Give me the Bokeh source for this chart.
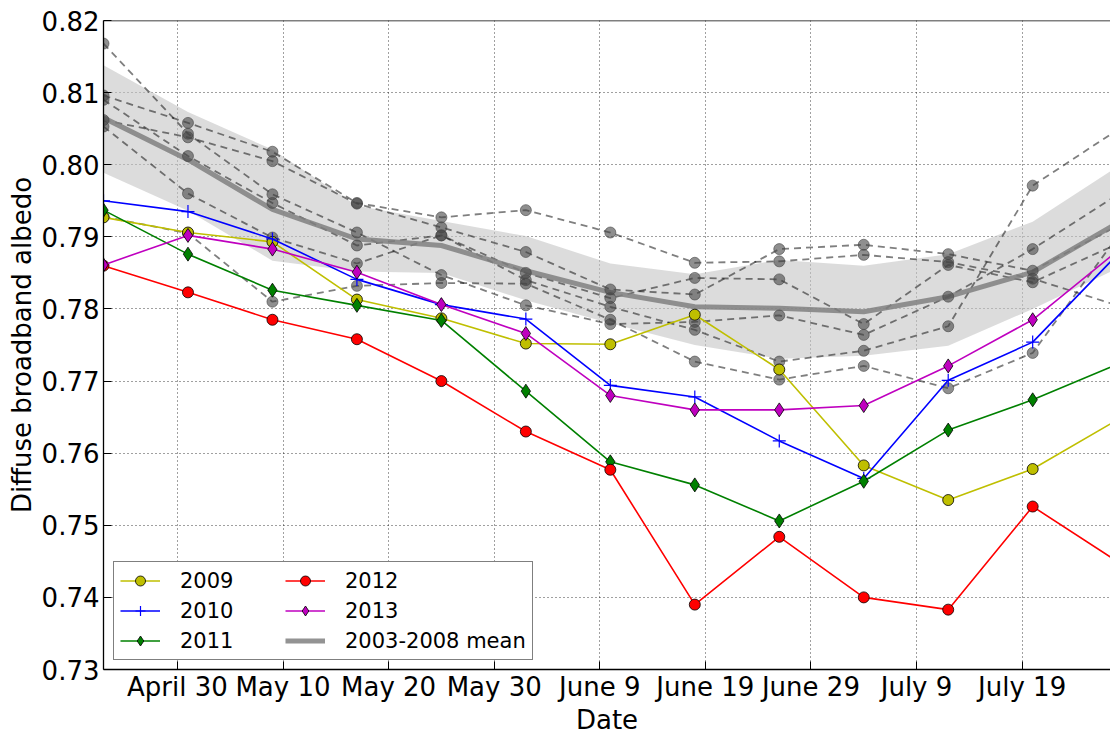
from bokeh.plotting import figure
from bokeh.models import Range1d, FixedTicker, PrintfTickFormatter, Legend, LegendItem, Span
from bokeh.embed import file_html
from bokeh.resources import INLINE

# day of year of each 8-day composite (Apr 23 ... Jul 28)
doy = [113, 121, 129, 137, 145, 153, 161, 169, 177, 185, 193, 201, 209]

tick_doy = [120, 130, 140, 150, 160, 170, 180, 190, 200]
tick_labels = ["April 30", "May 10", "May 20", "May 30", "June 9",
               "June 19", "June 29", "July 9", "July 19"]
y_ticks = [0.73, 0.74, 0.75, 0.76, 0.77, 0.78, 0.79, 0.80, 0.81, 0.82]

alb_2009 = [0.7927, 0.7906, 0.7893, 0.7813, 0.7787, 0.7752, 0.7751, 0.7792, 0.7716, 0.7583, 0.7535, 0.7578, 0.7646]
alb_2010 = [0.7950, 0.7935, 0.7897, 0.7841, 0.7806, 0.7786, 0.7694, 0.7678, 0.7617, 0.7565, 0.7701, 0.7754, 0.7875]
alb_2011 = [0.7937, 0.7876, 0.7826, 0.7805, 0.7784, 0.7686, 0.7588, 0.7556, 0.7506, 0.7561, 0.7632, 0.7674, 0.7723]
alb_2012 = [0.7860, 0.7823, 0.7785, 0.7758, 0.7700, 0.7630, 0.7577, 0.7390, 0.7484, 0.7400, 0.7383, 0.7526, 0.7450]
alb_2013 = [0.7861, 0.7902, 0.7883, 0.7851, 0.7806, 0.7766, 0.7680, 0.7660, 0.7660, 0.7666, 0.7721, 0.7785, 0.7880]

# individual reference years (2003-2008), grey dashed
ref_a = [0.8168, 0.8043, 0.7959, 0.7906, 0.7847, 0.7805, 0.7779, 0.7782, 0.7791, 0.7764, 0.7817, 0.7883, 0.7958]
ref_b = [0.8096, 0.8058, 0.8018, 0.7947, 0.7927, 0.7937, 0.7906, 0.7864, 0.7866, 0.7875, 0.7865, 0.7842, 0.7805]
ref_c = [0.8090, 0.8012, 0.7947, 0.7888, 0.7902, 0.7850, 0.7815, 0.7843, 0.7841, 0.7779, 0.7861, 0.7837, 0.7890]
ref_d = [0.8062, 0.8038, 0.8005, 0.7946, 0.7913, 0.7879, 0.7827, 0.7820, 0.7883, 0.7889, 0.7876, 0.7853, 0.7915]
ref_e = [0.8053, 0.7960, 0.7899, 0.7863, 0.7902, 0.7840, 0.7803, 0.7771, 0.7727, 0.7742, 0.7776, 0.7971, 0.8048]
ref_f = [0.7928, 0.7905, 0.7810, 0.7832, 0.7836, 0.7835, 0.7785, 0.7727, 0.7702, 0.7721, 0.7690, 0.7739, 0.7900]

mean_0308 = [0.8065, 0.8007, 0.7938, 0.7897, 0.7888, 0.7853, 0.7823, 0.7803, 0.7801, 0.7796, 0.7817, 0.7851, 0.7919]
band_upper = [0.8138, 0.8073, 0.8021, 0.7943, 0.7922, 0.7901, 0.7863, 0.7848, 0.7868, 0.7860, 0.7876, 0.7921, 0.7997]
band_lower = [0.7989, 0.7936, 0.7867, 0.7852, 0.7850, 0.7812, 0.7780, 0.7750, 0.7731, 0.7735, 0.7749, 0.7800, 0.7856]

FONT = "DejaVu Sans"

p = figure(width=1110, height=737, output_backend="svg", toolbar_location=None,
           x_range=Range1d(113, 208.37), y_range=Range1d(0.73, 0.82),
           min_border_left=103, min_border_right=0, min_border_top=20, min_border_bottom=60)
p.outline_line_color = None
p.background_fill_color = "white"
p.border_fill_color = "white"

p.xaxis.ticker = FixedTicker(ticks=tick_doy)
p.xaxis.major_label_overrides = {t: l for t, l in zip(tick_doy, tick_labels)}
p.yaxis.ticker = FixedTicker(ticks=y_ticks)
p.yaxis.formatter = PrintfTickFormatter(format="%.2f")
p.xaxis.axis_label = "Date"
p.yaxis.axis_label = "Diffuse broadband albedo"

for ax in (p.xaxis, p.yaxis):
    ax.axis_line_color = "black"
    ax.axis_line_width = 1.3
    ax.major_tick_in = 8
    ax.major_tick_out = 0
    ax.major_tick_line_color = "black"
    ax.minor_tick_line_color = None
    ax.major_label_text_font = FONT
    ax.major_label_text_font_size = "26px"
    ax.major_label_text_color = "black"
    ax.axis_label_text_font = FONT
    ax.axis_label_text_font_size = "26px"
    ax.axis_label_text_font_style = "normal"
    ax.axis_label_text_color = "black"
p.xaxis.major_label_standoff = 2
p.xaxis.axis_label_standoff = 0
p.yaxis.major_label_standoff = 4
p.yaxis.axis_label_standoff = 2

p.grid.grid_line_color = "black"
p.grid.grid_line_dash = "1 3"
p.grid.grid_line_alpha = 0.75
p.grid.grid_line_width = 1

p.add_layout(Span(location=0.82, dimension="width", line_color="black", line_width=1.5))

# spread band
p.varea(x=doy, y1=band_lower, y2=band_upper, fill_color="#c4c4c4", fill_alpha=0.6)

refs = [ref_a, ref_b, ref_c, ref_d, ref_e, ref_f]
for s in refs:
    p.line(doy, s, line_color="black", line_alpha=0.5, line_width=1.8, line_dash="7 5")

mean_r = p.line(doy, mean_0308, line_color="#808080", line_alpha=0.85, line_width=5)

for s in refs:
    p.scatter(doy, s, marker="circle", size=11, fill_color="#444444", fill_alpha=0.6,
              line_color="#444444", line_alpha=0.6)

items = []
series = [
    ("2009", alb_2009, "#bfbf00", "circle", 11),
    ("2010", alb_2010, "#0000ff", "cross", 13),
    ("2011", alb_2011, "#008000", "diamond", 14),
    ("2012", alb_2012, "#ff0000", "circle", 11),
    ("2013", alb_2013, "#bf00bf", "diamond", 14),
]
for label, vals, col, mk, sz in series:
    lr = p.line(doy, vals, line_color=col, line_width=1.6)
    if mk == "cross":
        sr = p.scatter(doy, vals, marker=mk, size=sz, line_color=col, line_width=1.2)
    else:
        sr = p.scatter(doy, vals, marker=mk, size=sz, fill_color=col,
                       line_color="black", line_width=0.8)
    items.append(LegendItem(label=label, renderers=[lr, sr]))
items.append(LegendItem(label="2003-2008 mean", renderers=[mean_r]))

legend = Legend(items=items, location=(10, 9), orientation="vertical", nrows=3,
                label_text_font=FONT, label_text_font_size="21px", label_text_color="black",
                glyph_width=40, glyph_height=25, label_height=25, label_width=100,
                label_standoff=20, spacing=5, padding=6, margin=0,
                border_line_color="black", border_line_width=1,
                background_fill_color="white", background_fill_alpha=1)
p.add_layout(legend)

open("out.html", "w").write(file_html(p, INLINE, title="Diffuse broadband albedo"))
